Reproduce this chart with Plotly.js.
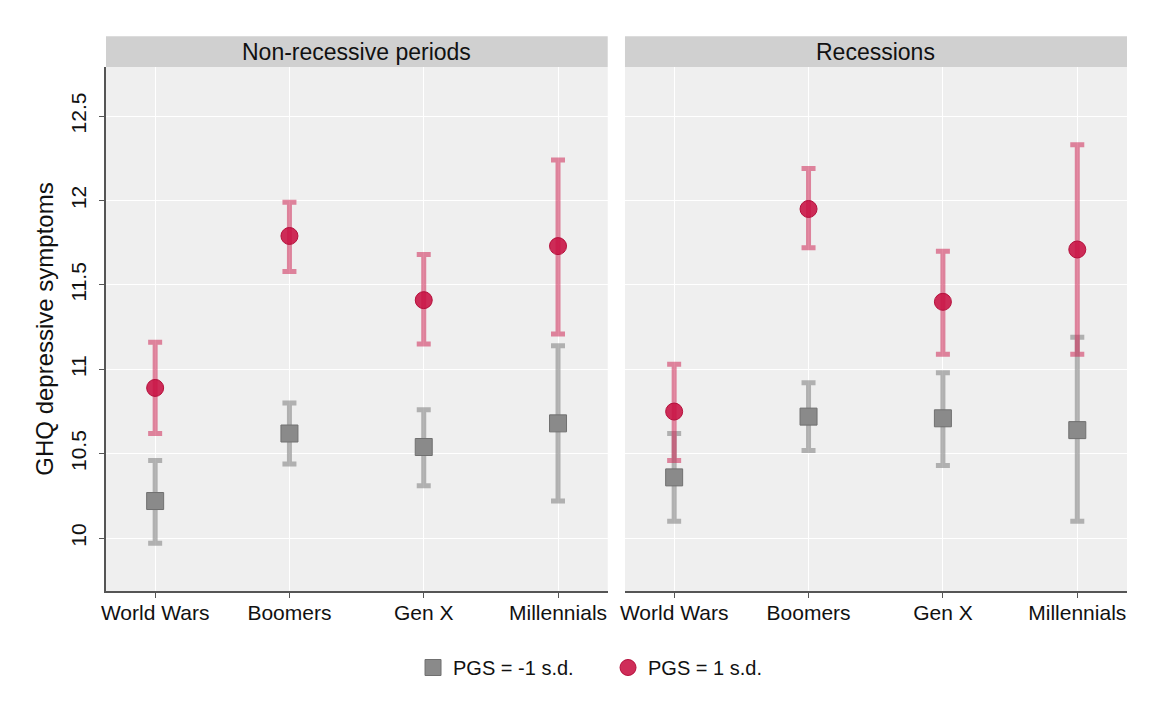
<!DOCTYPE html>
<html>
<head>
<meta charset="utf-8">
<script src="https://cdn.plot.ly/plotly-3.0.1.min.js"></script>
<style>html,body{margin:0;padding:0;background:#fff;}#chart{width:1159px;height:721px;}</style>
</head>
<body>
<div id="chart"></div>
<script>
// ---- Data ----
const cohorts = ["World Wars", "Boomers", "Gen X", "Millennials"];
const panels = ["Non-recessive periods", "Recessions"];
const seriesNames = ["PGS = -1 s.d.", "PGS = 1 s.d."];

// Non-recessive periods
const nonrecLowMean  = [10.22, 10.62, 10.54, 10.68];
const nonrecLowLo    = [9.97, 10.44, 10.31, 10.22];
const nonrecLowHi    = [10.46, 10.80, 10.76, 11.14];
const nonrecHighMean = [10.89, 11.79, 11.41, 11.73];
const nonrecHighLo   = [10.62, 11.58, 11.15, 11.21];
const nonrecHighHi   = [11.16, 11.99, 11.68, 12.24];

// Recessions
const recLowMean  = [10.36, 10.72, 10.71, 10.64];
const recLowLo    = [10.10, 10.52, 10.43, 10.10];
const recLowHi    = [10.62, 10.92, 10.98, 11.19];
const recHighMean = [10.75, 11.95, 11.40, 11.71];
const recHighLo   = [10.46, 11.72, 11.09, 11.09];
const recHighHi   = [11.03, 12.19, 11.70, 12.33];

const yTicks = [10, 10.5, 11, 11.5, 12, 12.5];
const yTickText = ["10", "10.5", "11", "11.5", "12", "12.5"];

// ---- Styles ----
const FONT = "Liberation Sans, Arial, Helvetica, sans-serif";
const grayFill = "#8a8a8a", grayLine = "#707070", grayErr = "rgba(150,150,150,0.7)";
const redFill = "rgba(200,16,66,0.88)", redLine = "#b5103c", redErr = "rgba(205,40,85,0.55)";

function diff(a, b) { return a.map((v, i) => v - b[i]); }

function makeTrace(mean, lo, hi, name, xa, ya, isRed, showLegend) {
  return {
    type: "scatter", mode: "markers",
    x: cohorts, y: mean, name: name, xaxis: xa, yaxis: ya,
    showlegend: showLegend, legendgroup: name,
    marker: isRed
      ? {symbol: "circle", size: 17, color: redFill, line: {color: redLine, width: 1}}
      : {symbol: "square", size: 17, color: grayFill, line: {color: grayLine, width: 1}},
    error_y: {
      type: "data", symmetric: false,
      array: diff(hi, mean), arrayminus: diff(mean, lo),
      color: isRed ? redErr : grayErr, thickness: 5, width: 7
    }
  };
}

const traces = [
  makeTrace(nonrecLowMean, nonrecLowLo, nonrecLowHi, seriesNames[0], "x", "y", false, true),
  makeTrace(nonrecHighMean, nonrecHighLo, nonrecHighHi, seriesNames[1], "x", "y", true, true),
  makeTrace(recLowMean, recLowLo, recLowHi, seriesNames[0], "x2", "y2", false, false),
  makeTrace(recHighMean, recHighLo, recHighHi, seriesNames[1], "x2", "y2", true, false)
];

const d1 = [0, 0.4914], d2 = [0.5083, 1];
const yRange = [9.687, 12.791];
const stripTop = 1.0586, stripMid = 1.0293;

const xaxisBase = {
  type: "category", range: [-0.366, 3.37], showgrid: true, gridcolor: "#ffffff", gridwidth: 1,
  showline: true, linecolor: "#555555", linewidth: 2, ticks: "outside", ticklen: 5, tickcolor: "#555555",
  ticklabelstandoff: -3,
  tickfont: {family: FONT, size: 21, color: "#111"}, zeroline: false, fixedrange: true
};
const yaxisBase = {
  range: yRange, tickvals: yTicks, ticktext: yTickText, showgrid: true, gridcolor: "#ffffff", gridwidth: 1,
  zeroline: false, fixedrange: true
};

const layout = {
  width: 1159, height: 721,
  margin: {l: 106, r: 32, t: 67, b: 130},
  paper_bgcolor: "#ffffff", plot_bgcolor: "#efefef",
  font: {family: FONT, color: "#111"},
  xaxis: Object.assign({}, xaxisBase, {domain: d1, anchor: "y"}),
  xaxis2: Object.assign({}, xaxisBase, {domain: d2, anchor: "y2"}),
  yaxis: Object.assign({}, yaxisBase, {
    domain: [0, 1], anchor: "x", showline: true, linecolor: "#555555", linewidth: 2,
    ticks: "outside", ticklen: 5, tickcolor: "#555555", tickangle: -90, ticklabelstandoff: 5,
    tickfont: {family: FONT, size: 21, color: "#111"},
    title: {text: "GHQ depressive symptoms", font: {family: FONT, size: 24, color: "#111"}, standoff: 6}
  }),
  yaxis2: Object.assign({}, yaxisBase, {
    domain: [0, 1], anchor: "x2", showline: false, showticklabels: false, ticks: ""
  }),
  shapes: [
    {type: "rect", xref: "paper", yref: "paper", x0: d1[0], x1: d1[1], y0: 1, y1: stripTop,
     fillcolor: "#d0d0d0", line: {width: 0}, layer: "below"},
    {type: "rect", xref: "paper", yref: "paper", x0: d2[0], x1: d2[1], y0: 1, y1: stripTop,
     fillcolor: "#d0d0d0", line: {width: 0}, layer: "below"}
  ],
  annotations: [
    {xref: "paper", yref: "paper", x: (d1[0] + d1[1]) / 2, y: stripMid, text: panels[0], showarrow: false,
     xanchor: "center", yanchor: "middle", font: {family: FONT, size: 23, color: "#111"}},
    {xref: "paper", yref: "paper", x: (d2[0] + d2[1]) / 2, y: stripMid, text: panels[1], showarrow: false,
     xanchor: "center", yanchor: "middle", font: {family: FONT, size: 23, color: "#111"}}
  ],
  legend: {
    orientation: "h", x: 0.4917, xanchor: "center", y: -0.146, yanchor: "middle",
    font: {family: FONT, size: 20, color: "#111"}, itemwidth: 30, entrywidth: 150, bgcolor: "rgba(0,0,0,0)"
  },
  showlegend: true
};

Plotly.newPlot("chart", traces, layout, {displayModeBar: false, staticPlot: true});
</script>
</body>
</html>
